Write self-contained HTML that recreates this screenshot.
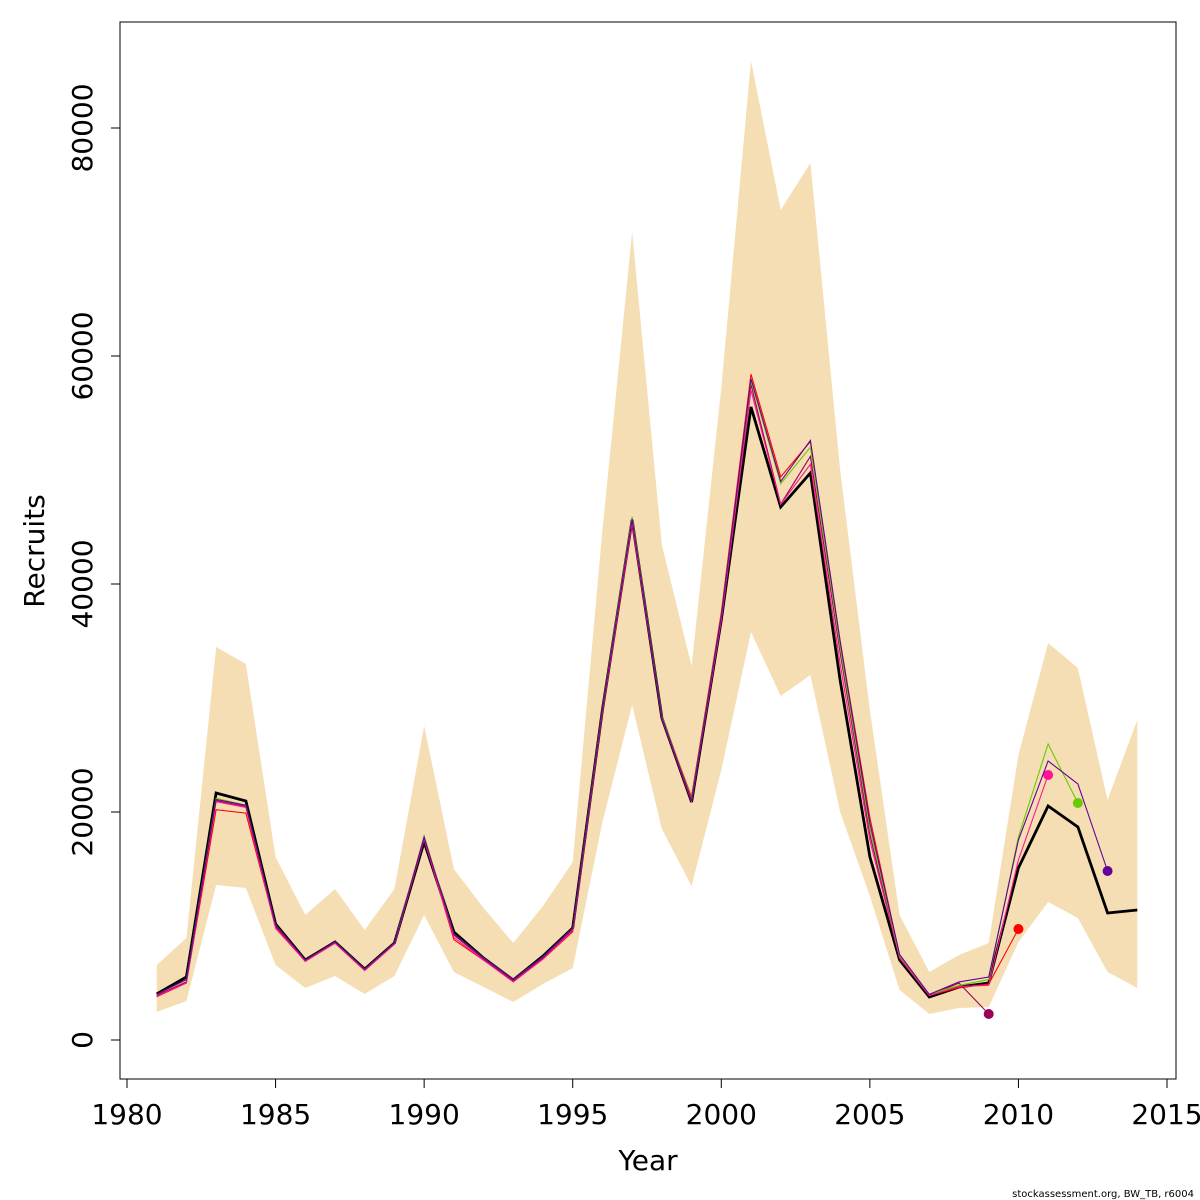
<!DOCTYPE html>
<html><head><meta charset="utf-8"><style>
html,body{margin:0;padding:0;background:#fff;}
svg{display:block;font-family:"DejaVu Sans","Liberation Sans",sans-serif;}
</style></head><body>
<svg id="chart" width="1200" height="1200" viewBox="0 0 1200 1200">
<rect x="120" y="22" width="1056" height="1057" fill="none" stroke="#000" stroke-width="1"/>
<g id="band"></g>
<g id="main"></g>
<g id="peels"></g>
<g id="xaxis"></g>
<g id="yaxis"></g>
<text x="648" y="1170" font-size="28" text-anchor="middle">Year</text>
<text x="44" y="551" font-size="28" text-anchor="middle" transform="rotate(-90 44 551)">Recruits</text>
<text x="1194" y="1197" font-size="10" text-anchor="end">stockassessment.org, BW_TB, r6004</text>
</svg>
<script>
const startYear = 1981;
const upper = [6579,8947,34474,32983,16053,10965,13246,9649,13246,27544,15000,11579,8509,11754,15614,44737,70877,43421,32807,57193,85877,72807,76930,50000,28947,10965,5965,7456,8509,25000,34825,32632,21053,28070];
const lower = [2456,3421,13596,13333,6579,4561,5614,4035,5614,10965,5965,4649,3333,4912,6316,19123,29386,18509,13509,23684,35789,30175,32018,20000,12632,4386,2281,2807,2895,8596,12105,10702,5965,4561];
const mainVals = [4035,5526,21667,20965,10175,7018,8596,6228,8509,17368,9474,7193,5263,7368,9825,28947,45614,28246,20877,36842,55526,46754,49737,31579,16053,7018,3772,4649,5000,15088,20526,18684,11140,11404];
const peelRed = [3800,5000,20200,19900,9900,6900,8500,6100,8400,17700,8800,7000,5200,7100,9500,28700,45300,28300,21300,37500,58400,49400,52500,35000,19500,7400,3900,4600,4900,9737];
const peelMagenta = [3900,5100,21000,20500,10000,7000,8600,6200,8500,17800,9200,7100,5200,7200,9700,28900,45500,28200,21000,37000,57500,47000,51200,34000,18000,7200,3900,5000,2281];
const peelPink = [3850,5000,20900,20400,9800,6900,8500,6100,8400,17600,9000,7000,5100,7100,9600,28800,45400,28200,20900,36800,57000,47000,50500,33000,17500,7200,3900,4700,4800,15789,23246];
const peelGreen = [4000,5300,21200,20600,10100,7000,8600,6200,8500,17900,9300,7200,5300,7300,9800,29100,45900,28400,21100,37300,57800,48800,52000,34500,18500,7400,4000,4800,5300,17807,25965,20789];
const peelPurple = [4000,5300,21100,20600,10100,7000,8600,6200,8500,17800,9300,7200,5300,7300,9800,29000,45700,28300,21000,37200,58000,49000,52600,35000,19000,7500,4000,5100,5526,17544,24474,22456,14825];
const xTicks = [1980,1985,1990,1995,2000,2005,2010,2015];
const yTicks = [0,20000,40000,60000,80000];

const NS = "http://www.w3.org/2000/svg";
const xs = y => 127 + (y - 1980) * (1040 / 35);
const ys = v => 1040 - v * (912 / 80000);
function mk(tag, attrs, parent){const e=document.createElementNS(NS,tag);for(const k in attrs)e.setAttribute(k,attrs[k]);parent.appendChild(e);return e;}
function pts(arr){return arr.map((v,i)=>xs(startYear+i).toFixed(1)+","+ys(v).toFixed(1)).join(" ");}

const bandPts = upper.map((v,i)=>xs(startYear+i)+","+ys(v)).concat(lower.map((v,i)=>[i,v]).reverse().map(([i,v])=>xs(startYear+i)+","+ys(v))).join(" ");
const band = mk("polygon",{points:bandPts,fill:"#F5DEB3",stroke:"none"},document.getElementById("band"));



const ml = mk("polyline",{points:pts(mainVals),fill:"none",stroke:"#000","stroke-width":2.8},document.getElementById("main"));



const peels = [[peelRed,"#FF0000","peel-red"],[peelMagenta,"#99005C","peel-magenta"],[peelPink,"#FF1493","peel-pink"],[peelGreen,"#66CC00","peel-green"],[peelPurple,"#660099","peel-purple"]];
const pg = document.getElementById("peels");
peels.forEach(([arr,col,nm])=>{
  const l = mk("polyline",{points:pts(arr),fill:"none",stroke:col,"stroke-width":1.1},pg);
  
  
  const li = arr.length-1;
  const c = mk("circle",{cx:xs(startYear+li),cy:ys(arr[li]),r:5,fill:col},pg);
  
  
});

const xg = document.getElementById("xaxis");
mk("line",{x1:xs(1980),x2:xs(2015),y1:1079,y2:1079,stroke:"#000"},xg);
xTicks.forEach(t=>{
  mk("line",{x1:xs(t),x2:xs(t),y1:1079,y2:1088,stroke:"#000"},xg);
  const tx = mk("text",{x:xs(t),y:1124,"font-size":28,"text-anchor":"middle"},xg);
  tx.textContent = t;
  
  
});
const yg = document.getElementById("yaxis");
mk("line",{x1:120,x2:120,y1:ys(0),y2:ys(80000),stroke:"#000"},yg);
yTicks.forEach(t=>{
  mk("line",{x1:111,x2:120,y1:ys(t),y2:ys(t),stroke:"#000"},yg);
  const tx = mk("text",{x:92,y:ys(t),"font-size":28,"text-anchor":"middle",transform:"rotate(-90 92 "+ys(t)+")"},yg);
  tx.textContent = t;
  
  
});
</script>
</body></html>
